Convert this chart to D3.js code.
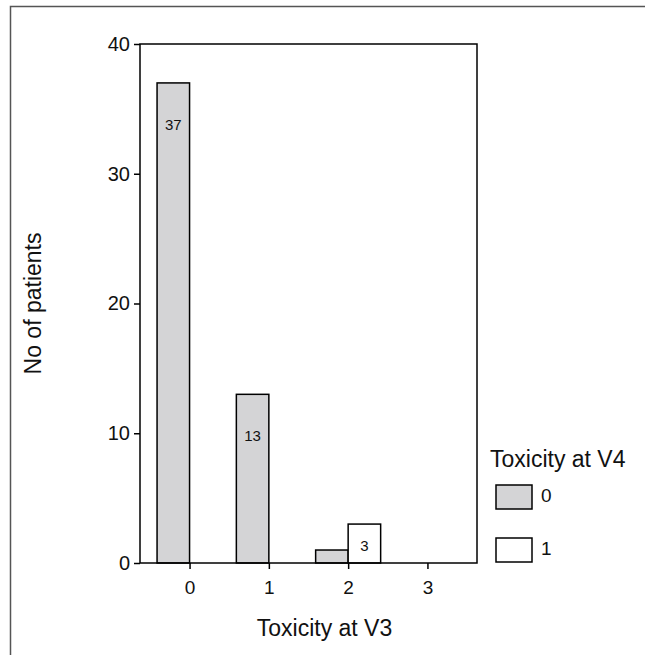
<!DOCTYPE html>
<html>
<head>
<meta charset="utf-8">
<script src="https://cdn.jsdelivr.net/npm/d3@7"></script>
<style>
  body { margin: 0; background: #fff; }
  svg { display: block; font-family: "Liberation Sans", Arial, sans-serif; }
</style>
</head>
<body>
<svg id="chart" width="645" height="655"></svg>
<script>
const categories = ["0", "1", "2", "3"];
const groups = ["0", "1"];
const countsV4zero = [37, 13, 1, 0];
const countsV4one = [0, 0, 3, 0];
const yTicks = [0, 10, 20, 30, 40];
const colors = {"0": "#d4d4d6", "1": "#ffffff"};

const svg = d3.select("#chart");
const margin = {top: 44, left: 140};
const width = 337;
const height = 519;

// outer frame, cut off at the right and bottom
svg.append("path")
  .attr("d", "M10.5,655 V6.5 H645")
  .attr("fill", "none")
  .attr("stroke", "#555")
  .attr("stroke-width", 1.5);

const g = svg.append("g")
  .attr("transform", "translate(" + margin.left + "," + margin.top + ")");

const x = d3.scalePoint().domain(categories).range([0, width]).padding(0.625);
const xSub = d3.scaleBand().domain(groups).range([-32.5, 32.5]);
const y = d3.scaleLinear().domain([0, 40]).range([height, 0]);

const rows = categories.map((c, i) => ({cat: c, values: [
  {group: "0", value: countsV4zero[i]},
  {group: "1", value: countsV4one[i]}
]}));

const bars = g.append("g").selectAll("g")
  .data(rows)
  .enter()
  .append("g")
  .attr("transform", d => "translate(" + x(d.cat) + ",0)");

bars.selectAll("rect")
  .data(d => d.values)
  .enter()
  .append("rect")
  .attr("x", d => xSub(d.group))
  .attr("width", xSub.bandwidth())
  .attr("y", d => y(d.value))
  .attr("height", d => height - y(d.value))
  .attr("fill", d => colors[d.group])
  .attr("stroke", "#000")
  .attr("stroke-width", 1.5);

bars.selectAll("text")
  .data(d => d.values.filter(v => v.value >= 3))
  .enter()
  .append("text")
  .attr("x", d => xSub(d.group) + xSub.bandwidth() / 2)
  .attr("y", d => {
    const h = height - y(d.value);
    return h > 90 ? y(d.value) + 43 : y(d.value) + h / 2 + 3;
  })
  .attr("text-anchor", "middle")
  .attr("dominant-baseline", "middle")
  .style("font-size", "15px")
  .style("fill", "#111")
  .text(d => d.value);

// plot box
g.append("rect")
  .attr("width", width)
  .attr("height", height)
  .attr("fill", "none")
  .attr("stroke", "#000")
  .attr("stroke-width", 1.5);

const yAxis = g.append("g")
  .call(d3.axisLeft(y).tickValues(yTicks).tickSize(6).tickPadding(4));
yAxis.select(".domain").remove();
yAxis.selectAll("line").attr("stroke-width", 1.5);
yAxis.selectAll("text").style("font-size", "20px").style("fill", "#111")
  .attr("font-family", null);

const xAxis = g.append("g")
  .attr("transform", "translate(0," + height + ")")
  .call(d3.axisBottom(x).tickSize(6).tickPadding(12));
xAxis.select(".domain").remove();
xAxis.selectAll("line").attr("stroke-width", 1.5);
xAxis.selectAll("text").style("font-size", "19px").style("fill", "#111")
  .attr("font-family", null);

svg.append("text")
  .attr("x", margin.left + width / 2 + 16)
  .attr("y", 636)
  .attr("text-anchor", "middle")
  .style("font-size", "23px")
  .style("fill", "#111")
  .text("Toxicity at V3");

svg.append("text")
  .attr("transform", "translate(41," + (margin.top + height / 2) + ") rotate(-90)")
  .attr("text-anchor", "middle")
  .style("font-size", "23px")
  .style("fill", "#111")
  .text("No of patients");

// legend
const legend = svg.append("g").attr("transform", "translate(490,0)");
legend.append("text")
  .attr("x", 0)
  .attr("y", 467)
  .style("font-size", "23px")
  .style("fill", "#111")
  .text("Toxicity at V4");

const items = legend.selectAll(".item")
  .data(groups)
  .enter()
  .append("g")
  .attr("class", "item")
  .attr("transform", (d, i) => "translate(6," + (485 + i * 53) + ")");

items.append("rect")
  .attr("width", 36)
  .attr("height", 24)
  .attr("fill", d => colors[d])
  .attr("stroke", "#000")
  .attr("stroke-width", 1.5);

items.append("text")
  .attr("x", 45)
  .attr("y", 12)
  .attr("dominant-baseline", "middle")
  .style("font-size", "19px")
  .style("fill", "#111")
  .text(d => d);
</script>
</body>
</html>
